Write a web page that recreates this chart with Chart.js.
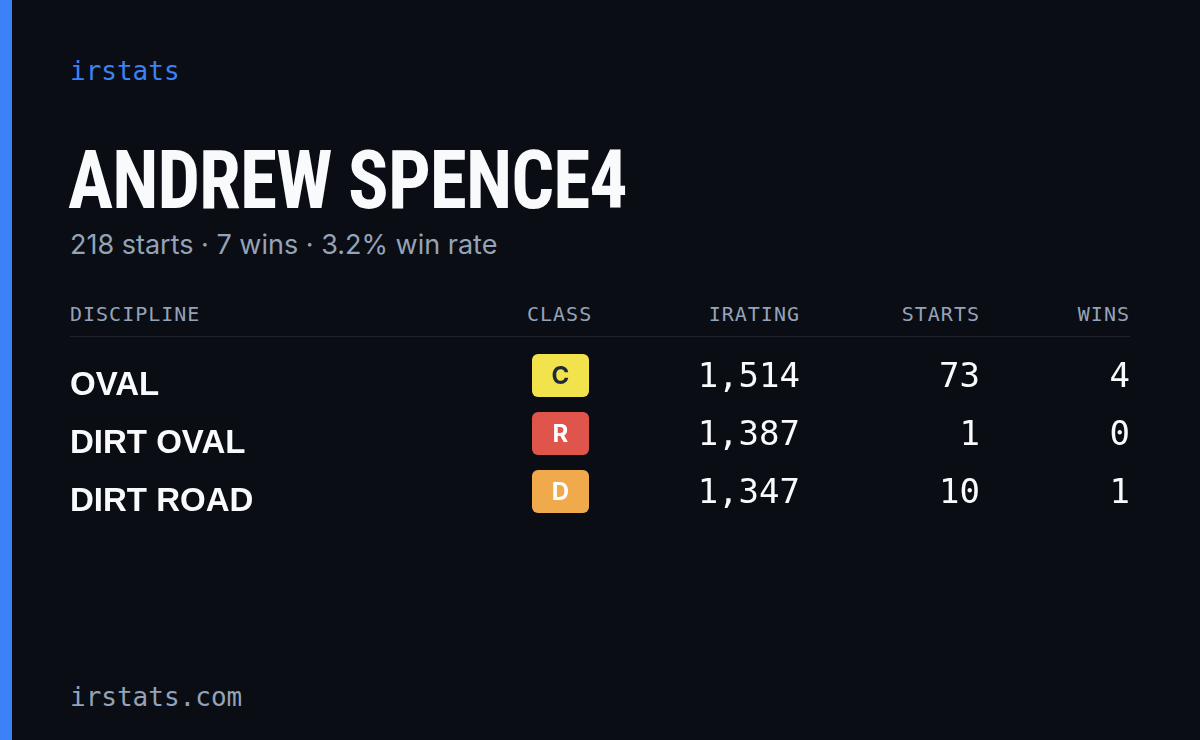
<!DOCTYPE html>
<html>
<head>
<meta charset="utf-8">
<script src="https://cdn.jsdelivr.net/npm/chart.js@4"></script>
<style>
  body { margin: 0; width: 1200px; height: 740px; background: #0a0d14; overflow: hidden; position: relative; font-family: "Inter", sans-serif; }
  .bar { position: absolute; left: 0; top: 0; width: 12px; height: 740px; background: #3b82f6; }
  .brand { position: absolute; left: 70px; top: 56px; color: #3b82f6; font: 26px "DejaVu Sans Mono", monospace; }
  .title { position: absolute; left: 68px; top: 132px; color: #f8fafc; font: bold 82px "Liberation Sans Narrow", "Roboto Condensed", sans-serif; letter-spacing: -1px; transform: scaleX(0.92); transform-origin: left; }
  .sub { position: absolute; left: 70px; top: 228px; color: #94a3b8; font-size: 27px; }
  .head { position: absolute; top: 302px; color: #94a3b8; font: 20px "DejaVu Sans Mono", monospace; letter-spacing: 1px; }
  .rule { position: absolute; left: 70px; top: 336px; width: 1060px; height: 1px; background: #1e2330; }
  .foot { position: absolute; left: 70px; top: 682px; color: #94a3b8; font: 26px "DejaVu Sans Mono", monospace; }
  #table { position: absolute; left: 0; top: 351px; }
</style>
</head>
<body>
<div class="bar"></div>
<div class="brand">irstats</div>
<div class="title">ANDREW SPENCE4</div>
<div class="sub">218 starts · 7 wins · 3.2% win rate</div>
<div class="head" style="left:70px">DISCIPLINE</div>
<div class="head" style="left:527px">CLASS</div>
<div class="head" style="right:400px">IRATING</div>
<div class="head" style="right:220px">STARTS</div>
<div class="head" style="right:70px">WINS</div>
<div class="rule"></div>
<canvas id="table" width="1200" height="174"></canvas>
<div class="foot">irstats.com</div>
<script>
const disciplines = ["OVAL", "DIRT OVAL", "DIRT ROAD"];
const classes = ["C", "R", "D"];
const iratings = [1514, 1387, 1347];
const starts = [73, 1, 10];
const wins = [4, 0, 1];

const classColors = { C: "#f2e34c", R: "#e0554b", D: "#f0aa4c" };
const classText = { C: "#1f2937", R: "#ffffff", D: "#ffffff" };

const tablePlugin = {
  id: "tableCells",
  afterDraw(chart) {
    const ctx = chart.ctx;
    const x = chart.scales.x;
    const y = chart.scales.y;
    ctx.save();
    ctx.textBaseline = "middle";
    disciplines.forEach((name, i) => {
      const cy = y.getPixelForValue(i);
      ctx.fillStyle = "#f8fafc";
      ctx.textAlign = "left";
      ctx.font = "bold 33px 'Liberation Sans Narrow', sans-serif";
      ctx.fillText(name, x.getPixelForValue(70), cy + 6);

      const bx = x.getPixelForValue(532);
      ctx.fillStyle = classColors[classes[i]];
      ctx.beginPath();
      ctx.roundRect(bx, cy - 26, 57, 43, 6);
      ctx.fill();
      ctx.fillStyle = classText[classes[i]];
      ctx.textAlign = "center";
      ctx.font = "bold 24px Inter, sans-serif";
      ctx.fillText(classes[i], bx + 28.5, cy - 3);

      ctx.fillStyle = "#f8fafc";
      ctx.textAlign = "right";
      ctx.font = "34px 'DejaVu Sans Mono', monospace";
      ctx.fillText(iratings[i].toLocaleString("en-US"), x.getPixelForValue(800), cy - 2);
      ctx.fillText(String(starts[i]), x.getPixelForValue(980), cy - 2);
      ctx.fillText(String(wins[i]), x.getPixelForValue(1130), cy - 2);
    });
    ctx.restore();
  },
};

new Chart(document.getElementById("table").getContext("2d"), {
  type: "bar",
  data: {
    labels: disciplines,
    datasets: [{ data: [0, 0, 0], backgroundColor: "transparent" }],
  },
  options: {
    indexAxis: "y",
    responsive: false,
    animation: false,
    layout: { padding: 0 },
    plugins: { legend: { display: false }, tooltip: { enabled: false } },
    scales: {
      x: { type: "linear", min: 0, max: 1200, display: false },
      y: { type: "category", display: false, offset: true },
    },
  },
  plugins: [tablePlugin],
});
</script>
</body>
</html>
